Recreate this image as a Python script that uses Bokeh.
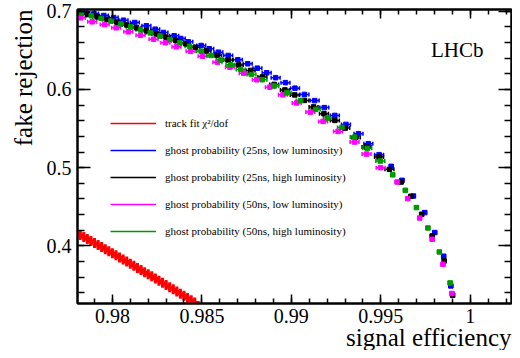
from bokeh.plotting import figure
from bokeh.models import (Range1d, SingleIntervalTicker, LinearAxis, CustomJSTickFormatter,
                          Whisker, TeeHead, ColumnDataSource, Legend, LegendItem, Label, Title)
from bokeh.embed import file_html
from bokeh.resources import INLINE

FONT = "Liberation Serif"

# ---------------- data ----------------
red_eff = [0.9780, 0.9782, 0.9784, 0.9786, 0.9788, 0.9790, 0.9792, 0.9794, 0.9796, 0.9798,
           0.9800, 0.9802, 0.9804, 0.9806, 0.9808, 0.9810, 0.9812, 0.9814, 0.9816, 0.9818,
           0.9820, 0.9822, 0.9824, 0.9826, 0.9828, 0.9830, 0.9832, 0.9834, 0.9836, 0.9838,
           0.9840, 0.9842, 0.9844, 0.9846]
red_rej = [0.4165, 0.4139, 0.4114, 0.4088, 0.4062, 0.4036, 0.4010, 0.3984, 0.3958, 0.3931,
           0.3905, 0.3879, 0.3852, 0.3825, 0.3799, 0.3772, 0.3745, 0.3718, 0.3691, 0.3664,
           0.3637, 0.3610, 0.3582, 0.3555, 0.3528, 0.3500, 0.3472, 0.3445, 0.3417, 0.3389,
           0.3361, 0.3333, 0.3305, 0.3277]

blue_eff = [0.97832, 0.97897, 0.97952, 0.98007, 0.98062, 0.98125, 0.98190, 0.98239, 0.98285,
            0.98345, 0.98382, 0.98424, 0.98496, 0.98541, 0.98592, 0.98647, 0.98701, 0.98756,
            0.98810, 0.98862, 0.98912, 0.98967, 0.99020, 0.99073, 0.99130, 0.99184, 0.99243,
            0.99305, 0.99375, 0.99430, 0.99490, 0.99558, 0.99618, 0.99682, 0.99745, 0.99801,
            0.99851, 0.99891]
blue_rej = [0.69923, 0.69706, 0.69451, 0.69195, 0.68851, 0.68557, 0.68135, 0.67701, 0.67280,
            0.66858, 0.66513, 0.66092, 0.65619, 0.65198, 0.64764, 0.64342, 0.63793, 0.63282,
            0.62720, 0.62133, 0.61507, 0.60868, 0.60166, 0.59361, 0.58570, 0.57676, 0.56679,
            0.55530, 0.54342, 0.53065, 0.51660, 0.50166, 0.48378, 0.46373, 0.44253, 0.41699,
            0.38672, 0.34879]

black_eff = [0.97810, 0.97860, 0.97915, 0.97970, 0.98025, 0.98080, 0.98135, 0.98190, 0.98245,
             0.98299, 0.98354, 0.98409, 0.98464, 0.98525, 0.98585, 0.98646, 0.98706, 0.98772,
             0.98838, 0.98904, 0.98964, 0.99019, 0.99073, 0.99124, 0.99182, 0.99243, 0.99301,
             0.99360, 0.99420, 0.99490, 0.99548, 0.99613, 0.99668, 0.99728, 0.99787, 0.99854,
             0.99901]
black_rej = [0.69898, 0.69604, 0.69285, 0.68953, 0.68608, 0.68250, 0.67880, 0.67497, 0.67101,
             0.66692, 0.66271, 0.65837, 0.65390, 0.64917, 0.64342, 0.63768, 0.63129, 0.62427,
             0.61596, 0.60639, 0.59936, 0.59298, 0.58595, 0.57765, 0.56897, 0.56041, 0.55057,
             0.53870, 0.52631, 0.51354, 0.49783, 0.48161, 0.46335, 0.44036, 0.41264, 0.38072,
             0.33691]

magenta_eff = [0.97823, 0.97887, 0.97957, 0.98021, 0.98089, 0.98157, 0.98230, 0.98296, 0.98358,
               0.98437, 0.98504, 0.98587, 0.98657, 0.98734, 0.98807, 0.98880, 0.98953, 0.99030,
               0.99106, 0.99177, 0.99261, 0.99353, 0.99420, 0.99499, 0.99591, 0.99650, 0.99717,
               0.99787, 0.99847, 0.99897]
magenta_rej = [0.69157, 0.68646, 0.68301, 0.67880, 0.67369, 0.66935, 0.66424, 0.65964, 0.65453,
               0.64891, 0.64253, 0.63487, 0.62848, 0.62082, 0.61239, 0.60294, 0.59323, 0.58276,
               0.57101, 0.55913, 0.54636, 0.53269, 0.51737, 0.50000, 0.48161, 0.46041, 0.43563,
               0.40843, 0.37650, 0.33908]

green_eff = [0.97827, 0.97882, 0.97937, 0.97992, 0.98047, 0.98102, 0.98157, 0.98212, 0.98266,
             0.98321, 0.98376, 0.98431, 0.98496, 0.98551, 0.98606, 0.98660, 0.98717, 0.98777,
             0.98838, 0.98904, 0.98975, 0.99052, 0.99136, 0.99204, 0.99283, 0.99354, 0.99424,
             0.99497, 0.99566, 0.99637, 0.99699, 0.99763, 0.99827, 0.99887]
green_rej = [0.69732, 0.69413, 0.69080, 0.68736, 0.68378, 0.68008, 0.67625, 0.67229, 0.66820,
             0.66398, 0.65964, 0.65517, 0.64891, 0.64342, 0.63755, 0.63155, 0.62554, 0.61916,
             0.61239, 0.60447, 0.59579, 0.58595, 0.57446, 0.56335, 0.55147, 0.53908, 0.52465,
             0.50843, 0.49080, 0.47101, 0.44891, 0.42286, 0.39221, 0.35262]

labels = ["track fit \u03c7\u00b2/dof",
          "ghost probability (25ns, low luminosity)",
          "ghost probability (25ns, high luminosity)",
          "ghost probability (50ns, low luminosity)",
          "ghost probability (50ns, high luminosity)"]
colors = ["#ff0000", "#0000ff", "#000000", "#ff00ff", "#009900"]

X_START, X_END = 0.97805, 1.0023
Y_START, Y_END = 0.3263, 0.7022

# ---------------- figure ----------------
p = figure(width=512, height=350, output_backend="svg", toolbar_location=None,
           x_range=Range1d(X_START, X_END), y_range=Range1d(Y_START, Y_END),
           min_border_left=76, min_border_right=1, min_border_top=9, min_border_bottom=47,
           background_fill_color="white", border_fill_color="white")
p.grid.visible = False
p.outline_line_color = "black"
p.outline_line_width = 2
p.extra_y_ranges = {"hidden": Range1d(100, 101)}

xticker = SingleIntervalTicker(interval=0.005, num_minor_ticks=5)
yticker = SingleIntervalTicker(interval=0.1, num_minor_ticks=5)
xfmt = CustomJSTickFormatter(code="return (Math.round(tick*1000)/1000).toString();")
yfmt = CustomJSTickFormatter(code="return (Math.round(tick*10)/10).toString();")
blank = CustomJSTickFormatter(code="return '';")


def style_axis(ax, major_in, minor_in, show_labels):
    ax.axis_line_width = 2
    ax.axis_line_color = "black"
    ax.major_tick_in = major_in
    ax.major_tick_out = 0
    ax.minor_tick_in = minor_in
    ax.minor_tick_out = 0
    ax.major_tick_line_width = 1.5
    ax.minor_tick_line_width = 1.5
    ax.major_tick_line_color = "black"
    ax.minor_tick_line_color = "black"
    if show_labels:
        ax.major_label_text_font = FONT
        ax.major_label_text_font_size = "20px"
        ax.major_label_text_color = "black"
    else:
        ax.major_label_text_font_size = "0px"
        ax.major_label_standoff = 0


xa = p.xaxis[0]
xa.ticker = xticker
xa.formatter = xfmt
xa.major_label_standoff = 5
style_axis(xa, 9, 5, True)

ya = p.yaxis[0]
ya.ticker = yticker
ya.formatter = yfmt
ya.major_label_standoff = 6
style_axis(ya, 13, 7, True)

top_ax = LinearAxis(ticker=xticker, formatter=blank)
style_axis(top_ax, 9, 5, False)
p.add_layout(top_ax, "above")
right_ax = LinearAxis(ticker=yticker, formatter=blank)
style_axis(right_ax, 13, 7, False)
p.add_layout(right_ax, "right")


# axis titles (right/top aligned, as in the reference)
def make_title(text, standoff):
    t = Title(text=text, align="right", text_font=FONT, text_font_size="25px",
              text_font_style="normal", text_color="black")
    try:
        t.standoff = standoff
    except Exception:
        t.standoff = 0
    return t


p.add_layout(make_title("signal efficiency", -8), "below")
p.add_layout(make_title("fake rejection", 14), "left")

# ---------------- data glyphs ----------------
p.scatter(red_eff, red_rej, marker="cross", size=10, line_width=3, line_color=colors[0])

series = [(blue_eff, blue_rej, colors[1]),
          (black_eff, black_rej, colors[2]),
          (magenta_eff, magenta_rej, colors[3]),
          (green_eff, green_rej, colors[4])]
for xs, ys, c in series:
    err = [0.00025 if x < 0.9955 else 0.0001 for x in xs]
    src = ColumnDataSource(dict(x=xs, y=ys,
                                lo=[x - e for x, e in zip(xs, err)],
                                hi=[x + e for x, e in zip(xs, err)]))
    w = Whisker(source=src, base="y", lower="lo", upper="hi", dimension="width",
                line_color=c, line_width=1.5,
                upper_head=TeeHead(size=4, line_color=c, line_width=1.5),
                lower_head=TeeHead(size=4, line_color=c, line_width=1.5))
    p.add_layout(w)
    p.scatter("x", "y", source=src, marker="square", size=4.5, fill_color=c, line_color=c)

# ---------------- legend (line samples drawn from off-screen copies) ----------------
all_series = [(red_eff, red_rej)] + [(xs, ys) for xs, ys, _ in series]
items = []
for lab, c, (xs, ys) in zip(labels, colors, all_series):
    r = p.line(xs, ys, line_color=c, line_width=1.5, y_range_name="hidden")
    items.append(LegendItem(label=lab, renderers=[r]))
legend = Legend(items=items, location=(33, 62), orientation="vertical",
                glyph_width=46, glyph_height=20, label_height=20, spacing=7,
                label_standoff=9, padding=0, margin=0,
                border_line_color=None, background_fill_alpha=0,
                label_text_font=FONT, label_text_font_size="11px",
                label_text_color="black")
p.add_layout(legend)

# ---------------- LHCb tag ----------------
p.add_layout(Label(x=0.9978, y=0.6507, text="LHCb", text_font=FONT,
                   text_font_size="21px", text_baseline="alphabetic", text_color="black"))

open("out.html", "w").write(file_html(p, INLINE))
